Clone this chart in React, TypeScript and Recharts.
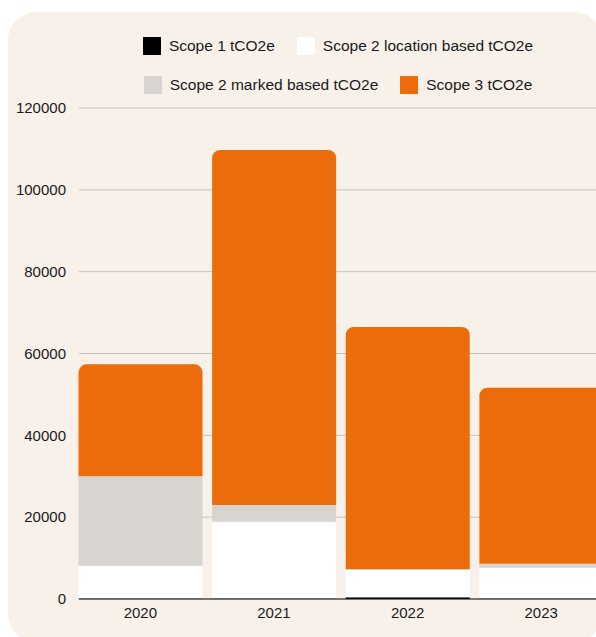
import { Bar, BarChart, CartesianGrid, Legend, XAxis, YAxis } from 'recharts';

const years = ['2020', '2021', '2022', '2023'];
const scope1 = [100, 100, 450, 100];
const scope2Location = [8000, 18800, 6700, 7550];
const scope2Market = [21900, 4100, 150, 980];
const scope3 = [27350, 86750, 59200, 43000];
const yTicks = [0, 20000, 40000, 60000, 80000, 100000, 120000];

const BG = '#f8f1ea';
const FONT = '"Liberation Sans", Arial, Helvetica, sans-serif';

const series = [
  { key: 'scope1', name: 'Scope 1 tCO2e', color: '#000000' },
  { key: 'scope2Location', name: 'Scope 2 location based tCO2e', color: '#ffffff' },
  { key: 'scope2Market', name: 'Scope 2 marked based tCO2e', color: '#d8d4cf' },
  { key: 'scope3', name: 'Scope 3 tCO2e', color: '#ec6b0a' }
];

const data = years.map((year, i) => ({
  year,
  scope1: scope1[i],
  scope2Location: scope2Location[i],
  scope2Market: scope2Market[i],
  scope3: scope3[i]
}));

function LegendItem({ name, color }: { name: string; color: string }) {
  return (
    <div style={{ display: 'flex', alignItems: 'center' }}>
      <span style={{ width: 18, height: 18, background: color, marginRight: 8, display: 'inline-block' }} />
      <span style={{ fontSize: 15.5, color: '#1a1a1a', whiteSpace: 'nowrap' }}>{name}</span>
    </div>
  );
}

function TwoRowLegend() {
  // legend is laid out as two fixed rows, like the original
  const rows = [series.slice(0, 2), series.slice(2, 4)];
  return (
    <div style={{ width: 660, height: 80, fontFamily: FONT }}>
      {rows.map((row, r) => (
        <div
          key={r}
          style={{
            height: 36,
            marginTop: r === 0 ? 0 : 3,
            display: 'flex',
            alignItems: 'center',
            justifyContent: 'center',
            gap: 22
          }}
        >
          {row.map((s) => (
            <LegendItem key={s.key} name={s.name} color={s.color} />
          ))}
        </div>
      ))}
    </div>
  );
}

export default function App() {
  return (
    <div style={{ position: 'fixed', left: 0, top: 0, width: 596, height: 637, overflow: 'hidden', background: '#fff' }}>
      <div
        style={{
          position: 'absolute',
          left: 8,
          top: 12,
          width: 594,
          height: 630,
          background: BG,
          borderRadius: 28
        }}
      />
      <div style={{ position: 'absolute', left: 8, top: 12 }}>
        <BarChart
          width={600}
          height={617}
          data={data}
          margin={{ top: 16, right: 0, bottom: 0, left: 0 }}
          style={{ fontFamily: FONT }}
        >
          <Legend
            verticalAlign="top"
            wrapperStyle={{ left: 0, top: 16, width: 660, height: 80 }}
            content={() => <TwoRowLegend />}
          />
          <CartesianGrid vertical={false} stroke="#c9c3bc" strokeWidth={1} />
          <YAxis
            width={71}
            domain={[0, 120000]}
            ticks={yTicks}
            axisLine={false}
            tickLine={false}
            tickMargin={7}
            tick={{ fontSize: 15, fill: '#1a1a1a' }}
            interval={0}
          />
          <XAxis
            dataKey="year"
            height={30}
            padding={{ left: -5.5, right: 0 }}
            axisLine={{ stroke: '#111111', strokeWidth: 1 }}
            tickLine={false}
            tick={{ fontSize: 15, fill: '#1a1a1a' }}
          />
          {series.map((s, i) => (
            <Bar
              key={s.key}
              dataKey={s.key}
              name={s.name}
              stackId="total"
              fill={s.color}
              barSize={124}
              radius={i === series.length - 1 ? [8, 8, 0, 0] : 0}
              isAnimationActive={false}
            />
          ))}
        </BarChart>
      </div>
    </div>
  );
}
